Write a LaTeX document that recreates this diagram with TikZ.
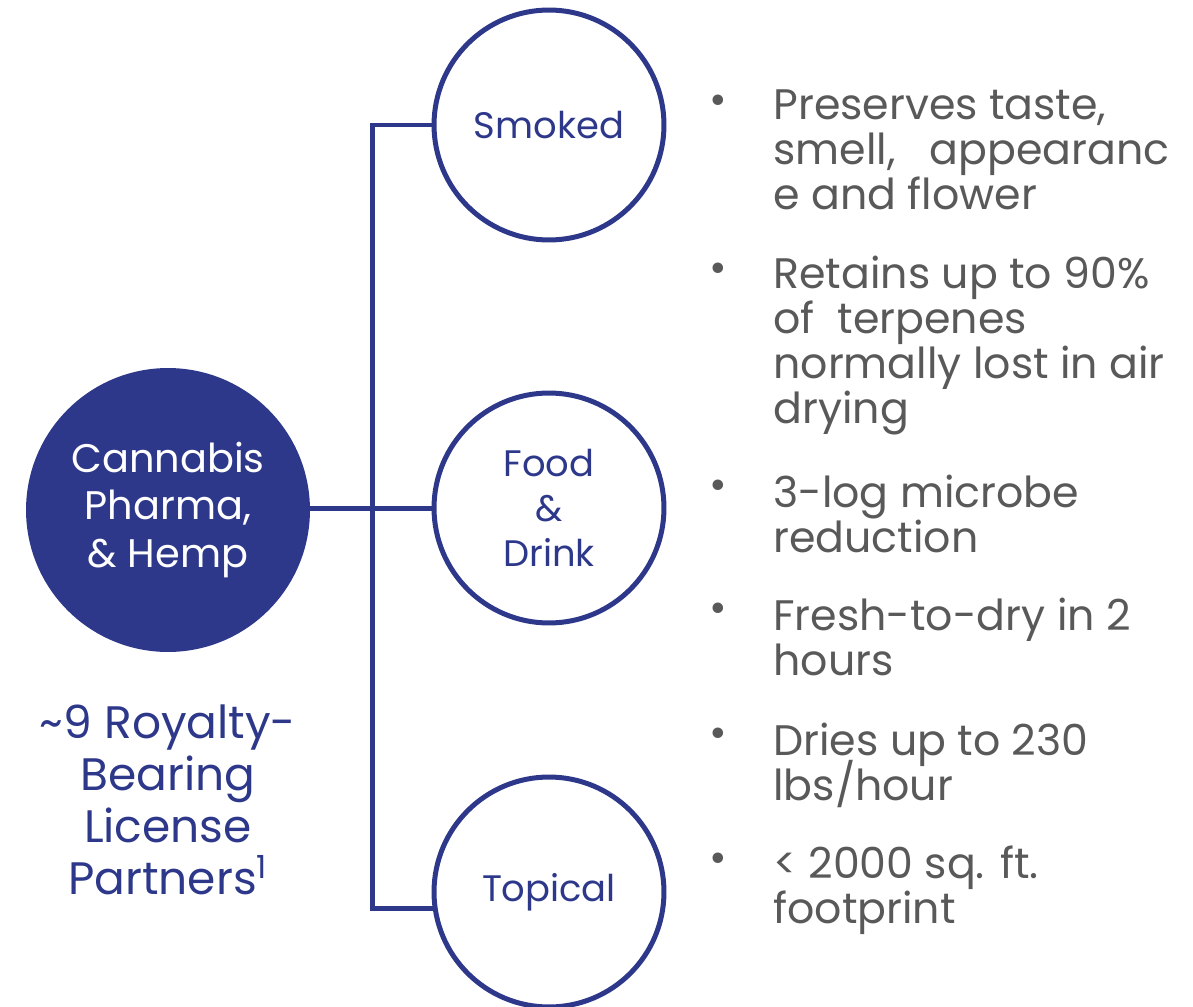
\documentclass[tikz,border=0pt]{standalone}
\usepackage{fontspec}
\setmainfont{Poppins}
\usetikzlibrary{positioning}
\definecolor{navy}{RGB}{45,56,138}
\definecolor{txtgray}{RGB}{89,89,89}
\setlength{\lineskiplimit}{-20pt}
\tikzset{
  hub/.style={circle, fill=navy, minimum size=5.68cm, inner sep=0pt, text=white, align=center,
    font=\fontsize{22.7}{27.2}\selectfont},
  use/.style={circle, draw=navy, line width=0.1cm, minimum size=4.6cm, inner sep=0pt, text=navy,
    align=center, font=\fontsize{21}{25.5}\selectfont},
  link/.style={draw=navy, line width=0.1cm},
  point/.style={anchor=base west, inner sep=0pt, align=left, text=txtgray,
    font=\fontsize{24.3}{25.5}\selectfont},
  dot/.style={inner sep=0pt, text=txtgray, font=\fontsize{24.3}{25.5}\selectfont},
}
\begin{document}
\begin{tikzpicture}[x=0.02cm, y=-0.02cm]
  \useasboundingbox (0,0) rectangle (1193,1007);
  \node[hub] (H) at (168,510) {Cannabis\\Pharma,\\\& Hemp};
  \node[use] (S) at (549,125) {Smoked};
  \node[use] (F) at (549,508) {Food\\\&\\Drink};
  \node[use] (T) at (549,892) {Topical};
  \node[align=center, text=navy, font=\fontsize{25.9}{29.5}\selectfont] (L) at (168,800)
    {\textasciitilde9 Royalty-\\Bearing\\License\\Partners\textsuperscript{1}};
  \coordinate (Vt) at (372,125);
  \coordinate (Vb) at (372,908);
  \draw[link] (S.west) -- (Vt) -- (Vb) -- (T.189 |- Vb);
  \draw[link] (H.east |- F.west) -- (F.west);
  \node[dot] (D1) at (718,105) {•};
  \node[dot] (D2) at (718,273) {•};
  \node[dot] (D3) at (718,490) {•};
  \node[dot] (D4) at (718,613) {•};
  \node[dot] (D5) at (718,738) {•};
  \node[dot] (D6) at (718,863) {•};
  \node[point] (P1) at (773,209) {Preserves taste,\\smell,\ \ \ appearanc\\e and flower};
  \node[point] (P2) at (773,423) {Retains up to 90\%\\of~ terpenes\\normally lost in air\\drying};
  \node[point] (P3) at (773,552) {3-log microbe\\reduction};
  \node[point] (P4) at (773,675) {Fresh-to-dry in 2\\hours};
  \node[point] (P5) at (773,800) {Dries up to 230\\lbs/hour};
  \node[point] (P6) at (773,923) {< 2000 sq. ft.\\footprint};
\end{tikzpicture}
\end{document}
